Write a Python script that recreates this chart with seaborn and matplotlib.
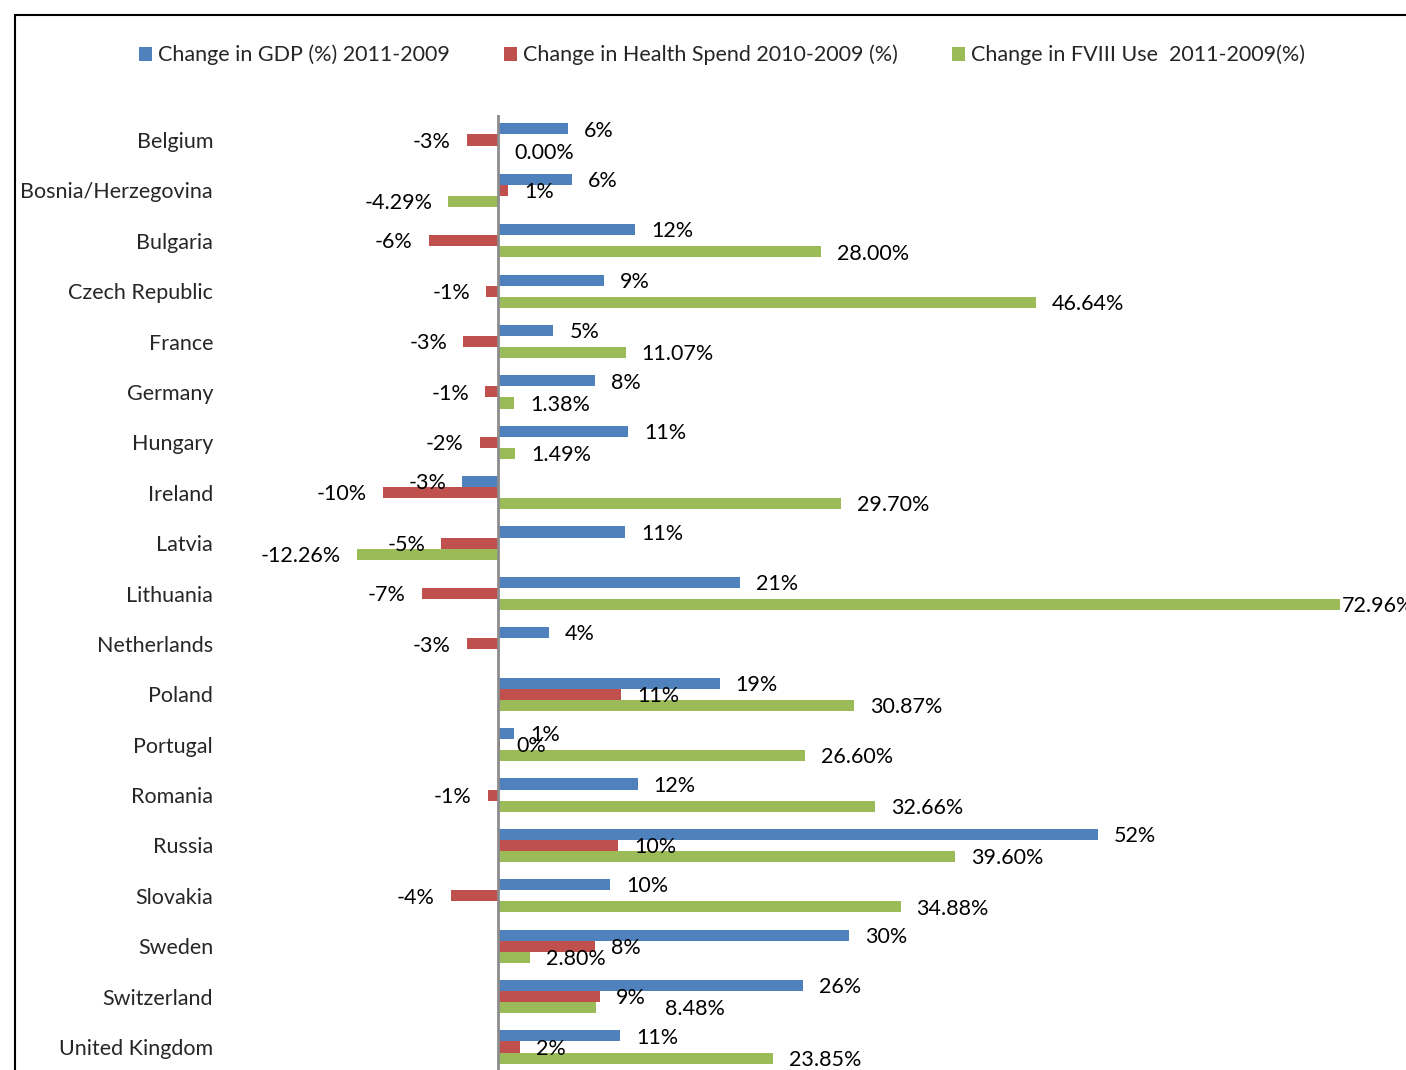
import numpy as np
import pandas as pd
import seaborn as sns
import matplotlib.pyplot as plt
from matplotlib.patches import Rectangle

countries = [
    "Belgium", "Bosnia/Herzegovina", "Bulgaria", "Czech Republic", "France",
    "Germany", "Hungary", "Ireland", "Latvia", "Lithuania", "Netherlands",
    "Poland", "Portugal", "Romania", "Russia", "Slovakia", "Sweden",
    "Switzerland", "United Kingdom",
]

# values (labels are rounded)
gdp_change = [6.1, 6.4, 11.9, 9.2, 4.8, 8.4, 11.3, -3.1, 11.0, 21.0, 4.4,
              19.2, 1.4, 12.1, 52.0, 9.7, 30.4, 26.4, 10.6]
health_change = [-2.7, 0.9, -6.0, -1.0, -3.0, -1.1, -1.6, -10.0, -4.9, -6.6, -2.7,
                 10.7, 0.2, -0.9, 10.4, -4.1, 8.4, 8.8, 1.9]
fviii_change = [0.00, -4.29, 28.00, 46.64, 11.07, 1.38, 1.49, 29.70, -12.26, 72.96, np.nan,
                30.87, 26.60, 32.66, 39.60, 34.88, 2.80, 8.48, 23.85]

series_names = [
    "Change in GDP (%) 2011-2009",
    "Change in Health Spend 2010-2009 (%)",
    "Change in FVIII Use  2011-2009(%)",
]
series_colors = ["#4F81BD", "#C0504D", "#9BBB59"]
label_formats = ["{:.0f}%", "{:.0f}%", "{:.2f}%"]

df = pd.DataFrame({
    "country": countries,
    series_names[0]: gdp_change,
    series_names[1]: health_change,
    series_names[2]: fviii_change,
}).melt(id_vars="country", var_name="series", value_name="change")

sns.set_style("white")
plt.rcParams["font.family"] = ["Lato", "DejaVu Sans"]
FS = 15.5

W, H = 1406, 1070
fig = plt.figure(figsize=(W / 100, H / 100), dpi=100)

# pixel layout: zero line at x=498, 11.54 px per percent
zero_px, px_per = 498, 11.54
left_px = 220
top_px, bottom_px = 140 - 25.2, 1047 + 25.2
ax = fig.add_axes([left_px / W, (H - bottom_px) / H,
                   (W - left_px) / W, (bottom_px - top_px) / H])

sns.barplot(
    data=df, y="country", x="change", hue="series",
    hue_order=series_names, palette=series_colors, saturation=1,
    orient="h", width=0.66, errorbar=None, ax=ax,
    edgecolor="none",
)

ax.set_xlim((left_px - zero_px) / px_per, (W - zero_px) / px_per)
ax.set_ylim(len(countries) - 0.5, -0.5)

pad = 11.5
for cont, fmt, name in zip(ax.containers, label_formats, series_names):
    anns = ax.bar_label(cont, fmt=lambda v, f=fmt: f.format(v), padding=pad,
                        fontsize=FS, color="black")
    for ann in anns:
        x0, y0 = ann.xyann
        ann.xyann = (x0, -1.2)
    if name != series_names[2]:
        continue
    # a couple of FVIII labels sit off their usual spot in the original
    for bar, ann in zip(cont, anns):
        idx = int(round(bar.get_y() + bar.get_height() / 2))
        if countries[idx] == "Switzerland":
            ann.xyann = (50, -1.2)
        elif countries[idx] == "Lithuania":
            ann.xyann = (1.5, -1.2)

ax.axvline(0, color="#8c8c8c", lw=2)
for s in ax.spines.values():
    s.set_visible(False)
ax.set_xticks([])
ax.set_xlabel("")
ax.set_ylabel("")
ax.tick_params(axis="y", length=0, pad=5, labelsize=FS)

handles, labels = ax.get_legend_handles_labels()
ax.get_legend().remove()
fig.legend(
    handles, labels, loc="center", bbox_to_anchor=(722 / W, 1 - 55 / H),
    ncol=3, frameon=False, fontsize=FS, handlelength=0.6, handleheight=0.6,
    handletextpad=0.3, columnspacing=2.5,
)

# chart-area border (runs off the right and bottom edges)
fig.patches.append(Rectangle((15 / W, -0.02), 1.0, 1 - 15 / H + 0.02,
                             transform=fig.transFigure, fill=False,
                             edgecolor="black", lw=1.5))

fig.savefig("out.png", dpi=100)
